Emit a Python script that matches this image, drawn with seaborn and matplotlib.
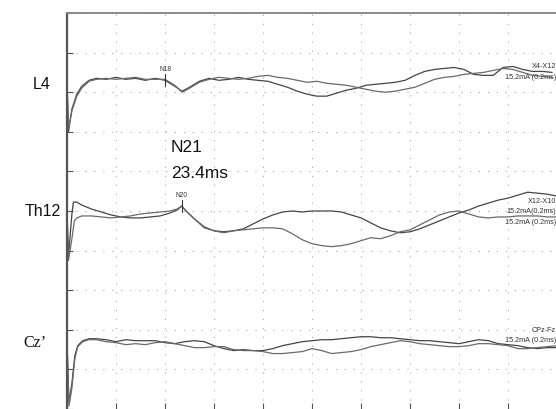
import numpy as np
import pandas as pd
import matplotlib
matplotlib.use("Agg")
import matplotlib.pyplot as plt
import seaborn as sns

sns.set_theme(style="white")
plt.rcParams["font.family"] = ["Liberation Sans", "DejaVu Sans"]

# ---- recorded SEP traces: latency (ms) and amplitude (uV), two runs per channel ----
L4_T = [0, 0.3, 1, 2, 3, 4.5, 6, 8, 10, 12, 14, 16, 18, 20, 22, 23.5, 25, 27, 29, 31,
        33, 35, 37, 39, 41, 43, 45, 47, 49, 51, 53, 55, 57, 59, 61, 63, 65, 67, 69, 71,
        73, 75, 77, 79, 81, 83, 85, 87, 89, 91, 93, 95, 97, 99]
L4_A = [0, -5.1, -2.8, -1.3, -0.5, 0.1, 0.3, 0.2, 0.4, 0.2, 0.3, 0.1, 0.3, 0.1, -0.5,
        -1.0, -0.6, 0.0, 0.3, 0.1, 0.2, 0.4, 0.2, 0.1, 0.0, -0.3, -0.6, -1.0, -1.3, -1.5,
        -1.5, -1.2, -0.9, -0.7, -0.4, -0.3, -0.2, -0.1, 0.1, 0.6, 1.0, 1.2, 1.3, 1.4, 1.2,
        0.7, 0.6, 0.6, 1.4, 1.5, 1.2, 1.0, 1.0, 0.9]
L4_B = [0, -4.8, -3.0, -1.5, -0.7, 0.0, 0.2, 0.3, 0.2, 0.3, 0.4, 0.2, 0.2, 0.2, -0.4,
        -1.1, -0.7, -0.1, 0.2, 0.4, 0.3, 0.2, 0.3, 0.5, 0.6, 0.4, 0.3, 0.1, -0.1, 0.0,
        -0.2, -0.3, -0.4, -0.6, -0.8, -1.0, -1.1, -1.0, -0.8, -0.6, -0.2, 0.2, 0.4, 0.5,
        0.7, 0.8, 0.9, 1.1, 1.3, 1.2, 0.9, 0.6, 0.5, 0.4]

TH12_TA = [0, 0.3, 1, 1.3, 2, 3, 4, 5, 7, 9, 11, 13, 15, 17, 19, 21, 22.5, 23.4, 24.5,
           26, 28, 30, 32, 34, 36, 38, 40, 42, 44, 46, 48, 50, 52, 54, 56, 58, 60, 62,
           64, 66, 68, 70, 72, 74, 76, 78, 80, 82, 84, 86, 88, 90, 92, 94, 96, 98, 100]
TH12_A = [0, -4.5, -0.2, 1.0, 1.0, 0.7, 0.5, 0.3, 0.0, -0.3, -0.5, -0.6, -0.6, -0.5,
          -0.4, -0.1, 0.2, 0.6, 0.0, -0.7, -1.5, -1.9, -2.0, -1.9, -1.7, -1.2, -0.7,
          -0.3, 0.0, 0.1, 0.0, 0.1, 0.1, 0.1, 0.0, -0.3, -0.6, -1.1, -1.6, -1.9, -2.1,
          -2.0, -1.7, -1.3, -0.9, -0.5, -0.1, 0.2, 0.6, 0.9, 1.2, 1.4, 1.7, 2.0, 1.9,
          1.8, 1.6]
TH12_TB = [0, 0.3, 1, 1.5, 2, 3, 5, 7, 9, 11, 13, 15, 17, 19, 21, 22.5, 23.4, 24.5,
           26, 28, 30, 32, 34, 36, 38, 40, 42, 44, 46, 48, 50, 52, 54, 56, 58, 60, 62,
           64, 66, 68, 70, 72, 74, 76, 78, 80, 82, 84, 86, 88, 90, 92, 94, 96, 98, 100]
TH12_B = [0, -4.9, -2.7, -0.9, -0.6, -0.4, -0.4, -0.5, -0.6, -0.5, -0.4, -0.2, -0.1,
          0.0, 0.1, 0.3, 0.6, 0.0, -0.7, -1.6, -1.9, -2.1, -1.9, -1.8, -1.7, -1.6, -1.6,
          -1.7, -2.2, -2.8, -3.2, -3.4, -3.5, -3.4, -3.2, -2.9, -2.6, -2.7, -2.4, -2.0,
          -1.8, -1.3, -0.8, -0.3, 0.0, 0.1, -0.2, -0.5, -0.6, -0.5, -0.5, -0.4, -0.4,
          -0.4, -0.5, -0.5]

CZ_T = [0, 0.4, 1, 1.6, 2.2, 3.2, 4.5, 6, 8, 10, 12, 14, 16, 18, 20, 22, 24, 26, 28,
        30, 32, 34, 36, 38, 40, 42, 44, 46, 48, 50, 52, 54, 56, 58, 60, 62, 64, 66, 68,
        70, 72, 74, 76, 78, 80, 82, 84, 86, 88, 90, 92, 94, 96, 98, 100]
CZ_A = [0, -6.2, -4.2, -1.4, -0.4, 0.1, 0.3, 0.3, 0.2, 0.0, 0.2, 0.1, 0.1, 0.1, -0.1,
        -0.2, 0.0, 0.1, 0.0, -0.4, -0.7, -0.9, -0.8, -0.9, -0.9, -0.7, -0.4, -0.2, 0.0,
        0.1, 0.2, 0.2, 0.3, 0.4, 0.5, 0.5, 0.4, 0.4, 0.3, 0.2, 0.1, 0.1, 0.0, -0.1, -0.2,
        0.0, 0.2, 0.1, -0.2, -0.3, -0.4, -0.6, -0.7, -0.6, -0.6]
CZ_B = [0, -6.5, -4.7, -1.7, -0.5, 0.0, 0.2, 0.2, 0.0, -0.1, -0.3, -0.2, -0.3, -0.1,
        0.0, -0.2, -0.4, -0.6, -0.6, -0.5, -0.5, -0.8, -0.9, -0.9, -1.0, -1.2, -1.2,
        -1.1, -1.0, -0.7, -0.9, -1.2, -1.1, -1.0, -0.8, -0.5, -0.3, -0.1, 0.1, 0.0, -0.2,
        -0.3, -0.4, -0.5, -0.5, -0.4, -0.2, -0.2, -0.3, -0.4, -0.7, -0.7, -0.6, -0.5,
        -0.4]

CHANNELS = ["L4", "Th12", "Cz\u2019"]
CHANNEL_BASE = [33.1, 19.9, 6.8]          # vertical position of each channel (uV on the sheet)
MONTAGES = [["X4-X12", "15.2mA (0.2ms)"],
            ["X12-X10", "15.2mA(0.2ms)", "15.2mA (0.2ms)"],
            ["CPz-Fz", "15.2mA (0.2ms)"]]
PEAK_NAMES = ["N18", "N20"]
PEAK_LAT = [20.0, 23.4]
N21_TEXT = ["N21", "23.4ms"]

# ---- long-format table for seaborn ----
rows = []
traces = [(0, "a", L4_T, L4_A), (0, "b", L4_T, L4_B),
          (1, "a", TH12_TA, TH12_A), (1, "b", TH12_TB, TH12_B),
          (2, "a", CZ_T, CZ_A), (2, "b", CZ_T, CZ_B)]
for ch, run, t, v in traces:
    for ti, vi in zip(t, v):
        rows.append({"ch": ch, "run": run, "t": ti, "y": CHANNEL_BASE[ch] + vi})
df = pd.DataFrame(rows)

fig = plt.figure(figsize=(5.56, 4.10), dpi=100)
ax = fig.add_axes([67 / 556, 0.0, 490 / 556, 396 / 410])

colors = {"a": "#454545", "b": "#6a6a6a"}
for (ch, run), g in df.groupby(["ch", "run"]):
    sns.lineplot(data=g, x="t", y="y", ax=ax, color=colors[run], lw=0.9,
                 estimator=None, sort=False, legend=False)

ax.set_xlim(0, 100)
ax.set_ylim(0, 40)
ax.set_xticks(np.arange(0, 101, 10))
ax.set_yticks(np.arange(0, 41, 4))
ax.set_xticklabels([])
ax.set_yticklabels([])
ax.set_xlabel("")
ax.set_ylabel("")
ax.tick_params(axis="both", direction="in", length=4, width=0.8, color="#555555",
               bottom=True, left=True)
ax.grid(True, color="#a8a8a8", lw=0.7, linestyle=(0, (1.2, 8)))

for side in ["right", "bottom"]:
    ax.spines[side].set_visible(False)
ax.spines["left"].set_color("#555555")
ax.spines["left"].set_linewidth(1.6)
ax.spines["top"].set_color("#8a8a8a")
ax.spines["top"].set_linewidth(1.4)

# channel names on the left
label_pos = [(-5.1, 32.9, "Liberation Sans"), (-4.9, 20.0, "Liberation Sans"),
             (-6.6, 6.8, "Liberation Serif")]
for name, (x, y, fam) in zip(CHANNELS, label_pos):
    ax.text(x, y, name, ha="center", va="center", fontsize=11.5, family=fam,
            color="#111111", clip_on=False)

# montage / stimulus text at the right end of each channel
right_rows = [[34.7, 33.6], [21.1, 20.0, 18.9], [8.0, 7.0]]
for texts, ys in zip(MONTAGES, right_rows):
    for s, y in zip(texts, ys):
        ax.text(99.8, y, s, ha="right", va="center", fontsize=5.2, color="#333333")

# peak markers
peak_ch = [0, 1]
for name, lat, ch in zip(PEAK_NAMES, PEAK_LAT, peak_ch):
    g = df[(df.ch == ch) & (df.run == "a")]
    yv = np.interp(lat, g.t, g.y)
    ax.plot([lat, lat], [yv - 0.6, yv + 0.6], color="#333333", lw=0.8)
    ax.text(lat, yv + 1.2, name, ha="center", va="center", fontsize=4.8, color="#333333")

ax.text(24.5, 26.5, N21_TEXT[0], ha="center", va="center", fontsize=12.5,
        fontweight="medium", color="#111111")
ax.text(27.1, 23.9, N21_TEXT[1], ha="center", va="center", fontsize=12.5,
        fontweight="medium", color="#111111")

fig.savefig("out.png", dpi=100)
